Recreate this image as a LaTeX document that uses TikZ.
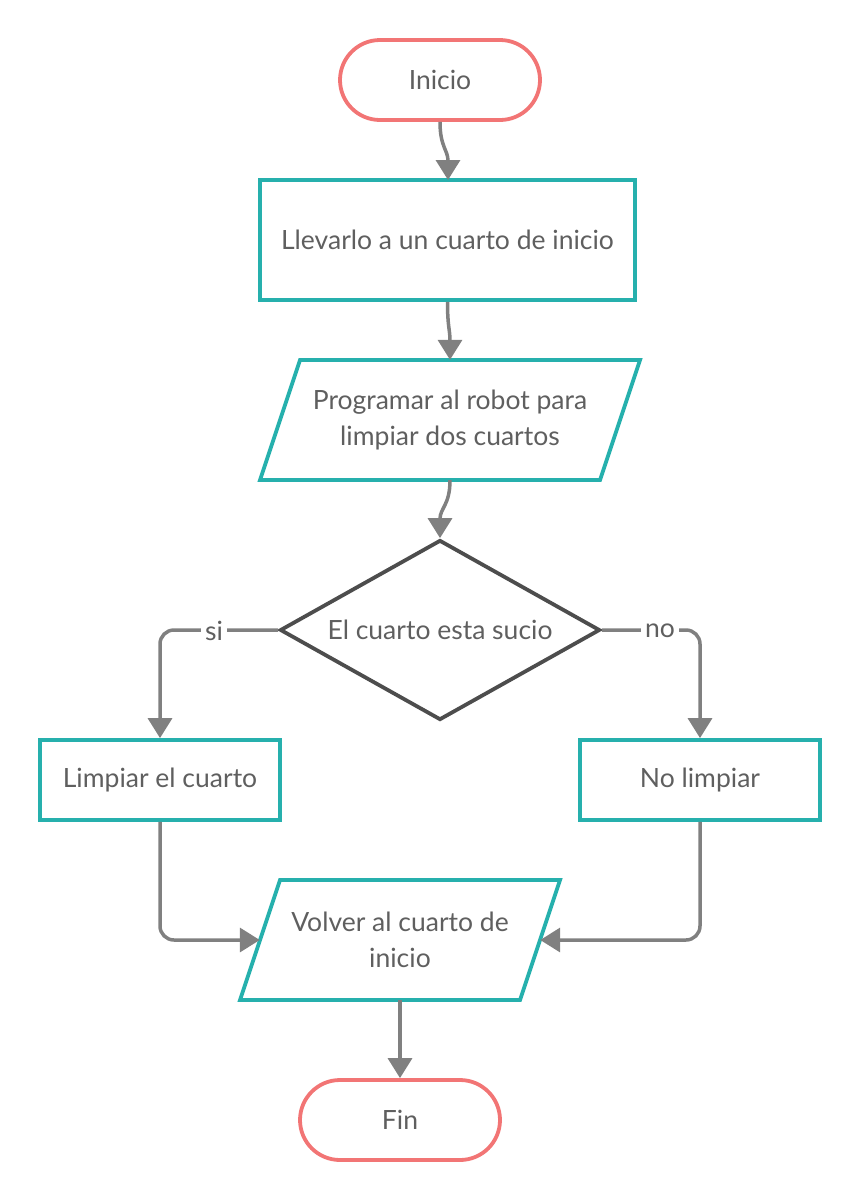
\documentclass[tikz,border=0pt]{standalone}
\usepackage{fontspec}
\setmainfont{Lato}
\usetikzlibrary{arrows.meta,shapes.geometric}
\definecolor{tealc}{RGB}{38,176,173}
\definecolor{salmon}{RGB}{242,117,117}
\definecolor{conn}{RGB}{128,128,128}
\definecolor{dia}{RGB}{77,77,77}
\definecolor{txt}{RGB}{95,95,95}
\begin{document}
\begin{tikzpicture}[x=1pt,y=-1pt,
  every node/.style={font=\fontsize{26.5}{36}\selectfont, text=txt},
  term/.style={draw=salmon, line width=3.8pt, rounded corners=40pt, minimum width=200pt, minimum height=80pt, inner sep=0pt},
  procbox/.style={draw=tealc, line width=3.8pt, minimum width=#1, minimum height=80pt, inner sep=0pt},
  iobox/.style={minimum width=280pt, minimum height=120pt, inner sep=0pt, align=center},
  tealline/.style={draw=tealc, line width=3.8pt, line join=miter},
  decis/.style={diamond, draw=dia, line width=3.8pt, minimum width=320pt, minimum height=180pt, aspect=1.78, inner sep=0pt},
  conline/.style={draw=conn, line width=3.5pt, -{Triangle[width=24pt,length=20pt]}},
  lbl/.style={fill=white, inner sep=4pt}
]
\useasboundingbox (0,0) rectangle (860,1200);
% nodes
\node[term] (ini) at (440,80) {Inicio};
\node[procbox=375pt, minimum height=120pt] (b1) at (447.5,240) {Llevarlo a un cuarto de inicio};
\draw[tealline] (300,360) -- (640,360) -- (600,480) -- (260,480) -- cycle;
\node[iobox, minimum width=300pt] (p1) at (450,420) {Programar al robot para\\limpiar dos cuartos};
\node[decis] (d) at (440,630) {El cuarto esta sucio};
\node[procbox=240pt] (l) at (160,780) {Limpiar el cuarto};
\node[procbox=240pt] (nl) at (700,780) {No limpiar};
\draw[tealline] (280,880) -- (560,880) -- (520,1000) -- (240,1000) -- cycle;
\node[iobox] (p2) at (400,940) {Volver al cuarto de\\inicio};
\node[term] (fin) at (400,1120) {Fin};
% connectors
\draw[conline] (ini.south) .. controls +(0,25) and +(0,-30) .. (448,180);
\draw[conline] (b1.south) .. controls +(0,25) and +(0,-30) .. (p1.north);
\draw[conline] (p1.south) .. controls +(0,25) and +(0,-30) .. (d.north);
\draw[conline, rounded corners=14pt] (d.west) -- (160,630) -- (l.north);
\node[lbl] (si) at (214,631) {si};
\draw[conline, rounded corners=14pt] (d.east) -- (700,630) -- (nl.north);
\node[lbl] (no) at (660,631) {no};
\draw[conline, rounded corners=14pt] (l.south) -- (160,940) -- (p2.west);
\draw[conline, rounded corners=14pt] (nl.south) -- (700,940) -- (p2.east);
\draw[conline] (p2.south) -- (fin.north);
\end{tikzpicture}
\end{document}
